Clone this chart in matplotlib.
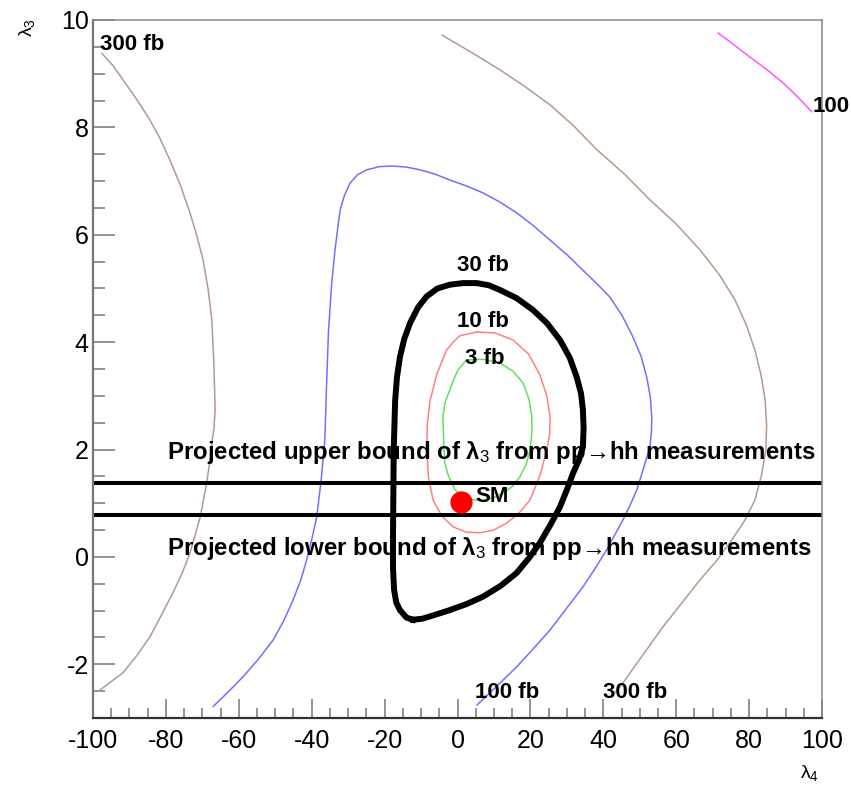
import matplotlib
matplotlib.use("Agg")
import matplotlib.pyplot as plt
from matplotlib.ticker import MultipleLocator

plt.rcParams['font.family'] = ['Liberation Sans', 'DejaVu Sans']
plt.rcParams['mathtext.fontset'] = 'custom'
plt.rcParams['mathtext.rm'] = 'Liberation Sans'
plt.rcParams['mathtext.it'] = 'Liberation Sans:italic'
plt.rcParams['mathtext.bf'] = 'Liberation Sans:bold'
plt.rcParams['axes.unicode_minus'] = False

# contour lines (lambda4, lambda3)
brown_left_x = [-97.6, -94.5, -91.7, -88.0, -84.4, -81.5, -78.9, -76.0, -73.4, -71.5,
                -69.8, -68.4, -67.4, -66.8, -66.5, -66.8, -67.4, -68.0, -68.8, -70.6,
                -73.4, -75.6, -78.1, -81.2, -84.4, -88.0, -91.8, -98.1]
brown_left_y = [9.38, 9.15, 8.88, 8.52, 8.14, 7.78, 7.39, 6.92, 6.41, 5.98,
                5.53, 4.98, 4.41, 3.54, 2.74, 2.40, 2.12, 1.76, 1.38, 0.74,
                0.07, -0.31, -0.67, -1.08, -1.49, -1.84, -2.16, -2.48]

brown_right_x = [-4.3, 3.5, 11.7, 18.5, 25.4, 32.0, 38.3, 45.8, 52.8, 60.0,
                 66.5, 71.8, 76.1, 79.3, 81.6, 83.3, 84.4, 84.8, 84.6, 83.4,
                 81.6, 78.8, 75.3, 71.2, 66.5, 61.5, 56.4, 50.5, 44.6, 43.2]
brown_right_y = [9.72, 9.41, 9.07, 8.76, 8.42, 8.02, 7.58, 7.13, 6.65, 6.20,
                 5.72, 5.26, 4.79, 4.31, 3.85, 3.38, 2.92, 2.45, 1.99, 1.52,
                 1.06, 0.68, 0.32, -0.06, -0.43, -0.86, -1.30, -1.86, -2.42, -2.53]

blue_x = [-67.1, -63.0, -58.8, -54.6, -50.6, -47.6, -45.1, -43.0, -41.4, -39.9,
          -38.6, -37.3, -36.4, -35.9, -35.4, -34.5, -33.6, -32.9, -32.2, -31.0,
          -29.5, -27.4, -24.9, -21.3, -17.7, -14.0, -10.3, -6.2, -2.1, 2.4,
          7.0, 11.6, 16.2, 20.8, 25.4, 30.0, 34.4, 38.2, 41.8, 45.2,
          48.1, 50.4, 51.9, 52.9, 53.3, 53.2, 52.8, 50.9, 49.2, 47.4,
          45.4, 40.9, 37.8, 34.4, 30.0, 25.4, 20.8, 16.2, 12.4, 8.9, 5.3]
blue_y = [-2.79, -2.52, -2.23, -1.90, -1.55, -1.18, -0.80, -0.43, -0.06, 0.35,
          0.75, 1.50, 2.18, 3.24, 4.20, 5.10, 5.72, 6.10, 6.46, 6.74,
          6.96, 7.12, 7.21, 7.27, 7.28, 7.26, 7.21, 7.13, 7.02, 6.91,
          6.78, 6.61, 6.41, 6.17, 5.90, 5.63, 5.34, 5.09, 4.84, 4.49,
          4.10, 3.73, 3.35, 2.98, 2.61, 2.33, 2.05, 1.62, 1.25, 0.97,
          0.69, 0.13, -0.21, -0.56, -0.95, -1.36, -1.71, -2.05, -2.30, -2.53, -2.76]

pink_x = [71.5, 75.8, 80.2, 84.8, 89.3, 93.3, 97.2]
pink_y = [9.76, 9.54, 9.31, 9.08, 8.83, 8.57, 8.29]

black_x = [-12.2, -14.0, -15.8, -16.8, -17.4, -17.7, -17.7, -17.5, -17.1, -16.6,
           -15.8, -14.6, -13.0, -10.8, -8.5, -5.5, -2.1, 1.5, 5.3, 8.6,
           11.7, 16.2, 20.7, 24.6, 28.1, 30.8, 32.7, 33.9, 34.4, 34.6, 34.4,
           33.3, 31.7, 30.0, 28.1, 25.5, 22.6, 19.5, 16.2, 11.8, 7.0,
           2.4, -2.1, -6.7, -9.6, -12.2]
black_y = [-1.17, -1.13, -0.99, -0.85, -0.61, -0.20, 0.32, 1.99, 2.92, 3.35,
           3.72, 4.06, 4.36, 4.65, 4.85, 5.00, 5.07, 5.10, 5.10, 5.06,
           4.97, 4.82, 4.60, 4.35, 4.04, 3.71, 3.35, 3.04, 2.74, 2.40, 2.05,
           1.80, 1.56, 1.25, 0.93, 0.60, 0.26, -0.03, -0.30, -0.54, -0.74,
           -0.88, -0.99, -1.09, -1.15, -1.17]

red_x = [5.3, 10.4, 15.2, 19.5, 22.6, 24.5, 25.4, 25.3, 24.5, 22.6,
         19.9, 16.8, 13.5, 9.9, 6.2, 2.4, -1.2, -4.3, -6.7, -8.0,
         -8.4, -8.3, -7.5, -5.6, -3.0, -1.2, 0.7, 5.3]
red_y = [4.19, 4.17, 4.04, 3.78, 3.39, 3.00, 2.61, 2.30, 1.99, 1.51,
         1.06, 0.81, 0.63, 0.50, 0.45, 0.46, 0.56, 0.76, 1.06, 1.50,
         1.99, 2.46, 2.92, 3.42, 3.85, 4.00, 4.12, 4.19]

green_x = [2.5, 7.0, 11.7, 15.2, 18.0, 19.6, 20.4, 20.4, 19.9, 18.8,
           17.1, 15.2, 13.0, 10.4, 7.5, 4.6, 2.1, -0.7, -2.6, -3.5,
           -3.7, -4.0, -3.4, -2.1, -1.0, 0.1, 2.5]
green_y = [3.67, 3.68, 3.61, 3.46, 3.24, 2.94, 2.61, 2.30, 1.99, 1.72,
           1.49, 1.32, 1.21, 1.12, 1.06, 1.06, 1.10, 1.25, 1.53, 1.76,
           1.99, 2.61, 2.88, 3.11, 3.31, 3.48, 3.67]

upper_bound = 1.37
lower_bound = 0.78
sm_point = (1.0, 1.02)

fig = plt.figure(figsize=(8.51, 7.90), dpi=100)
ax = fig.add_axes([93 / 851, 1 - 718 / 790, 729 / 851, 698 / 790])

thin = dict(lw=1.1, solid_joinstyle='round', solid_capstyle='round')
ax.plot(brown_left_x, brown_left_y, color='#b39a8f', **thin)
ax.plot(brown_right_x, brown_right_y, color='#b39a8f', **thin)
ax.plot(blue_x, blue_y, color='#7070ff', **thin)
ax.plot(pink_x, pink_y, color='#ff55ff', **thin)
ax.plot(red_x, red_y, color='#ff8080', **thin)
ax.plot(green_x, green_y, color='#60e060', **thin)
ax.plot(black_x, black_y, color='black', lw=4.3, solid_joinstyle='round')

ax.axhline(upper_bound, color='black', lw=2.9)
ax.axhline(lower_bound, color='black', lw=2.9)

ax.plot(*sm_point, 'o', color='red', ms=15, mec='red', zorder=5)

lab = dict(fontsize=16, fontweight='bold', va='center', ha='left')
ax.text(-98.1, 9.55, '300 fb', **lab)
ax.text(97.3, 8.38, '100', **lab, clip_on=False)
ax.text(-0.2, 5.42, '30 fb', **lab)
ax.text(-0.2, 4.39, '10 fb', **lab)
ax.text(2.0, 3.70, '3 fb', **lab)
ax.text(4.8, 1.13, 'SM', **lab)
ax.text(4.8, -2.53, '100 fb', **lab)
ax.text(39.9, -2.53, '300 fb', **lab)
long_lab = dict(lab, fontsize=17.3)
ax.text(-79.7, 1.94, 'Projected upper bound of λ$_3$ from pp→hh measurements', **long_lab)
ax.text(-79.7, 0.15, 'Projected lower bound of λ$_3$ from pp→hh measurements', **long_lab)

ax.set_xlim(-100, 100)
ax.set_ylim(-3, 10)
ax.xaxis.set_major_locator(MultipleLocator(20))
ax.xaxis.set_minor_locator(MultipleLocator(5))
ax.yaxis.set_major_locator(MultipleLocator(2))
ax.yaxis.set_minor_locator(MultipleLocator(0.5))
ax.tick_params(axis='x', which='major', direction='in', length=14, width=1.1,
               color='#777777', labelsize=18, pad=8)
ax.tick_params(axis='x', which='minor', direction='in', length=7, width=1.1, color='#777777')
ax.tick_params(axis='y', which='major', direction='in', length=16, width=1.1,
               color='#777777', labelsize=18, pad=3)
ax.tick_params(axis='y', which='minor', direction='in', length=8.5, width=1.1, color='#777777')
for s in ax.spines.values():
    s.set_color('#888888')
    s.set_linewidth(1.1)
ax.spines['left'].set_linewidth(1.6)
ax.spines['bottom'].set_linewidth(1.6)
ax.spines['left'].set_color('#777777')
ax.spines['bottom'].set_color('#333333')

fig.text(27 / 851, 1 - 28 / 790, 'λ$_3$', rotation=90, fontsize=14, ha='center', va='center')
fig.text(810 / 851, 1 - 773 / 790, 'λ$_4$', fontsize=14, ha='center', va='center')

fig.savefig('out.png', dpi=100)
